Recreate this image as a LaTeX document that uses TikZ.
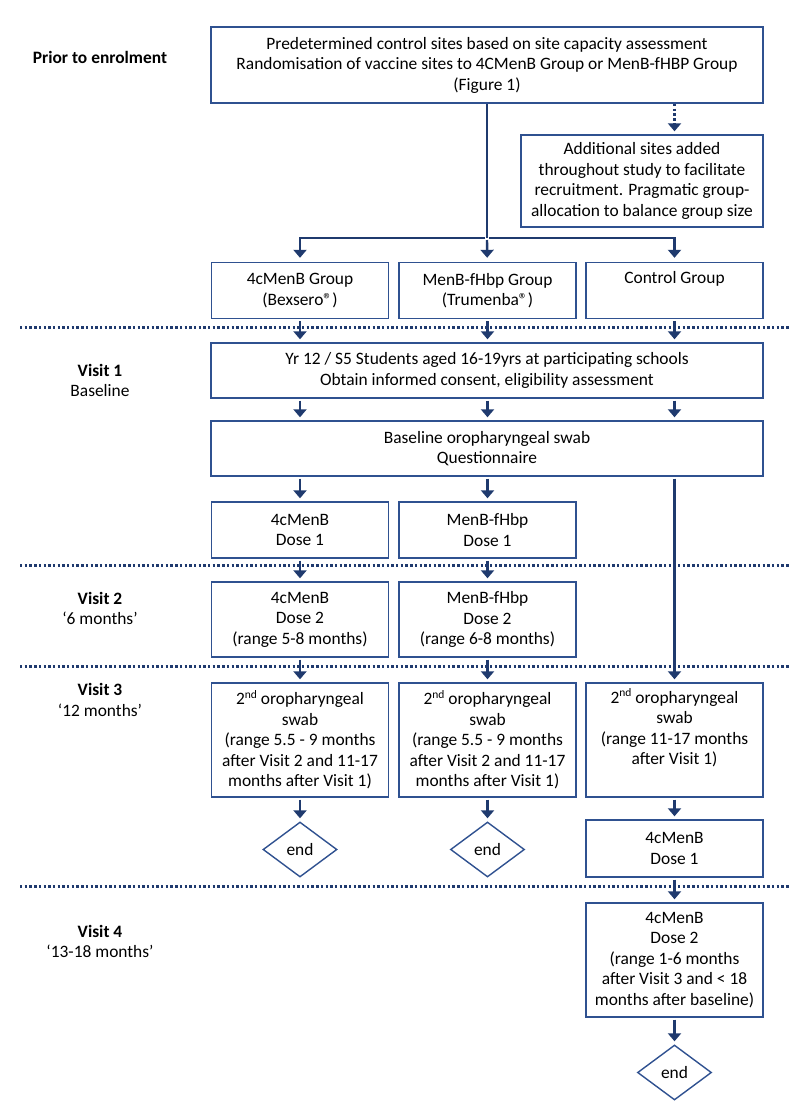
\documentclass[tikz,border=0pt]{standalone}
\usepackage{fontspec}
\setmainfont{Carlito}
\usepackage{tikz}
\usetikzlibrary{arrows.meta,shapes.geometric,positioning}
\usepackage{xcolor}
\definecolor{azulcaja}{HTML}{2F5190}
\definecolor{azulflecha}{HTML}{1F3A6E}
\newcommand{\supind}[1]{\raisebox{0.75ex}{\fontsize{11.5}{11.5}\selectfont #1}}

\begin{document}
\begin{tikzpicture}[x=1pt, y=-1pt, font=\fontsize{17.4}{20.5}\selectfont,
    caja/.style={draw=azulcaja, line width=1.4pt, align=center, inner sep=0pt},
    fin/.style={draw=azulcaja, line width=1.4pt, diamond, inner sep=0pt, minimum width=74pt, minimum height=55pt},
    flecha/.style={draw=azulflecha, line width=2.4pt, -{Triangle[width=13pt,length=8pt]}, shorten <=2pt, shorten >=3pt},
    linea/.style={draw=azulflecha, line width=2.4pt},
    punteada/.style={flecha, dash pattern=on 2.4pt off 2.4pt},
    separador/.style={draw=azulflecha, line width=3pt, dash pattern=on 2.4pt off 2.3pt},
    etiqueta/.style={align=center}]
    \useasboundingbox (0,0) rectangle (796,1119);

    % Lineas punteadas entre visitas
    \draw[separador] (20,327) -- (790,327);
    \draw[separador] (20,565) -- (790,565);
    \draw[separador] (20,666) -- (790,666);
    \draw[separador] (20,886) -- (790,886);

    % Etiquetas de la izquierda
    \node[etiqueta, font=\fontsize{17.4}{20.5}\selectfont\bfseries] (prior) at (100,57) {Prior to enrolment};
    \node[etiqueta] (visita1) at (100,380.5) {\textbf{Visit 1}\\Baseline};
    \node[etiqueta] (visita2) at (100,608.5) {\textbf{Visit 2}\\‘6 months’};
    \node[etiqueta] (visita3) at (100,700) {\textbf{Visit 3}\\‘12 months’};
    \node[etiqueta] (visita4) at (100,941.5) {\textbf{Visit 4}\\‘13-18 months’};

    % Caja superior y sitios adicionales
    \node[caja, minimum width=552pt, minimum height=76pt] (top) at (487,65) {Predetermined control sites based on site capacity assessment\\Randomisation of vaccine sites to 4CMenB Group or MenB-fHBP Group\\(Figure 1)};
    \node[caja, minimum width=242pt, minimum height=92pt] (add) at (642,181) {Additional sites added\\throughout study to facilitate\\recruitment. Pragmatic group-\\allocation to balance group size};

    % Grupos
    \node[caja, minimum width=177pt, minimum height=56pt] (g1) at (300,290.5) {4cMenB Group\\(Bexsero®)};
    \node[caja, minimum width=177pt, minimum height=56pt] (g2) at (487.5,290.5) {MenB-fHbp Group\\(Trumenba®)};
    \node[caja, minimum width=177pt, minimum height=56pt] (g3) at (674.5,290.5) {Control Group\\\strut};

    % Visita 1
    \node[caja, minimum width=552pt, minimum height=55pt] (v1) at (487,370.5) {Yr 12 / S5 Students aged 16-19yrs at participating schools\\Obtain informed consent, eligibility assessment};
    \node[caja, minimum width=552pt, minimum height=55pt] (swab) at (487,448.5) {Baseline oropharyngeal swab\\Questionnaire};
    \node[caja, minimum width=177pt, minimum height=56pt] (d1a) at (300,530) {4cMenB\\Dose 1};
    \node[caja, minimum width=177pt, minimum height=56pt] (d1b) at (487.5,530) {MenB-fHbp\\Dose 1};

    % Visita 2
    \node[caja, minimum width=177pt, minimum height=75pt] (d2a) at (300,619.5) {4cMenB\\Dose 2\\(range 5-8 months)};
    \node[caja, minimum width=177pt, minimum height=75pt] (d2b) at (487.5,619.5) {MenB-fHbp\\Dose 2\\(range 6-8 months)};

    % Visita 3
    \node[caja, minimum width=177pt, minimum height=114pt] (v3a) at (300,740) {2\supind{nd} oropharyngeal\\swab\\(range 5.5 - 9 months\\after Visit 2 and 11-17\\months after Visit 1)};
    \node[caja, minimum width=177pt, minimum height=114pt] (v3b) at (487.5,740) {2\supind{nd} oropharyngeal\\swab\\(range 5.5 - 9 months\\after Visit 2 and 11-17\\months after Visit 1)};
    \node[caja, minimum width=177pt, minimum height=114pt] (v3c) at (674.5,740) {2\supind{nd} oropharyngeal\\swab\\(range 11-17 months\\after Visit 1)\\\strut};
    \node[fin] (fin1) at (300,849.5) {end};
    \node[fin] (fin2) at (487.5,849.5) {end};
    \node[caja, minimum width=177pt, minimum height=57pt] (c1) at (674.5,848.5) {4cMenB\\Dose 1};

    % Visita 4
    \node[caja, minimum width=177pt, minimum height=114pt] (v4) at (674.5,960) {4cMenB\\Dose 2\\(range 1-6 months\\after Visit 3 and < 18\\months after baseline)};
    \node[fin] (fin3) at (674.5,1072.5) {end};

    % Conexiones
    \coordinate (fork) at (487,238);
    \draw[linea] (top) -- (fork);
    \draw[flecha, shorten >=4pt] (fork) -| (g1);
    \draw[flecha, shorten >=4pt] (fork) -- (g2);
    \draw[flecha, shorten >=4pt] (fork) -| (g3);
    \draw[punteada, shorten <=0pt] (g3 |- top.south) -- (g3 |- add.north);

    \foreach \g in {g1,g2,g3} {
        \draw[flecha] (\g) -- (\g |- v1.north);
        \draw[flecha] (\g |- v1.south) -- (\g |- swab.north);
    }
    \draw[flecha] (d1a |- swab.south) -- (d1a);
    \draw[flecha] (d1b |- swab.south) -- (d1b);
    \draw[flecha] (v3c |- swab.south) -- (v3c);

    \draw[flecha] (d1a) -- (d2a);
    \draw[flecha] (d1b) -- (d2b);
    \draw[flecha] (d2a) -- (v3a);
    \draw[flecha] (d2b) -- (v3b);
    \draw[flecha] (v3a) -- (fin1);
    \draw[flecha] (v3b) -- (fin2);
    \draw[flecha] (v3c) -- (c1);
    \draw[flecha] (c1) -- (v4);
    \draw[flecha] (v4) -- (fin3);
\end{tikzpicture}
\end{document}
